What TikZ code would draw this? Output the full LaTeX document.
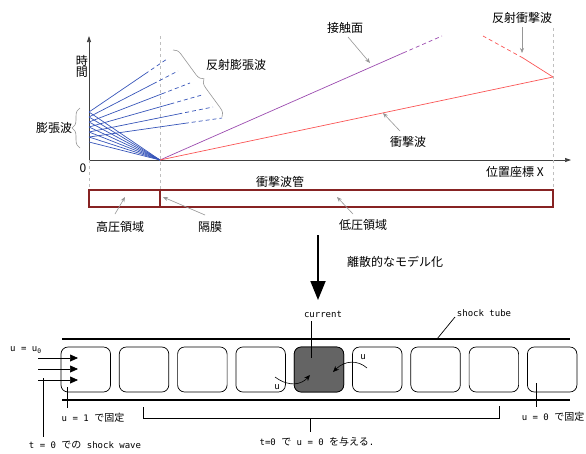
\documentclass[tikz,border=0pt]{standalone}
\usepackage{fontspec}
\setmainfont{Noto Sans CJK JP}
\newfontfamily\monofont[Scale=0.9]{DejaVu Sans Mono}
\usetikzlibrary{arrows.meta,calc,decorations.pathreplacing}

\definecolor{fanblue}{RGB}{55,85,185}
\definecolor{contactpurple}{RGB}{155,75,175}
\definecolor{shockred}{RGB}{250,85,85}
\definecolor{tubered}{RGB}{135,35,35}
\definecolor{notegray}{RGB}{150,150,150}
\definecolor{cellgray}{RGB}{100,100,100}

\tikzset{
  axisline/.style={line width=0.7pt,draw=black!75,-{Triangle[length=6pt,width=4pt]}},
  guide/.style={dashed,draw=black!25,line width=0.5pt},
  fan/.style={draw=fanblue,line width=0.7pt},
  wave/.style={line width=0.7pt},
  dashpart/.style={dash pattern=on 4pt off 3pt},
  note/.style={draw=notegray,line width=0.6pt,-{Stealth[length=5pt,width=4pt]}},
  notebrace/.style={draw=notegray,line width=0.6pt,decorate,decoration={brace,amplitude=8pt}},
  label/.style={font=\fontsize{12}{14}\selectfont,inner sep=1pt},
  small/.style={font=\fontsize{10}{12}\selectfont,inner sep=1pt},
  cell/.style={draw,rounded corners=7pt,line width=0.7pt,minimum width=49.5pt,minimum height=45pt,inner sep=0pt},
  wall/.style={line width=2.6pt},
  pointer/.style={line width=0.7pt},
  push/.style={line width=0.7pt,-{Triangle[length=8pt,width=7pt]}},
  flux/.style={line width=0.6pt,-{Stealth[length=6pt,width=5pt]}}
}

\begin{document}
\begin{tikzpicture}[x=1pt,y=-1pt]
\useasboundingbox (0,0) rectangle (586,453);

% axes
\coordinate (O) at (89,160);
\coordinate (F) at (160,160);
\coordinate (W) at (553,160);
\draw[axisline] (O) -- (89,36) coordinate (T);
\draw[axisline] (O) -- (571,160) coordinate (X);
\node[label,anchor=east,align=center] at (89,66) {時\\[-3pt]間};
\node[label] at (83,168) {0};
\node[label] at (515,172) {位置座標 X};

% guide lines
\draw[guide] (F) ++(0,-124) -- (160,190);
\draw[guide] (O) -- (89,190);
\draw[guide] (553,28) -- (553,190);

% expansion fan and its reflection
\foreach \i in {0,...,6}
  \coordinate (e\i) at (89,{112+5*\i});
\foreach \i in {0,...,6}
  \draw[fan] (F) -- (e\i);
\foreach \i/\ex/\ey in {0/167/59,1/178/71,2/190/83,3/202/95,4/213/107,5/222/118}{
  \coordinate (r\i) at (\ex,\ey);
  \draw[fan] (e\i) -- ($(e\i)!0.72!(r\i)$) coordinate (m\i);
  \draw[fan,dashpart] (m\i) -- (r\i);
}

% contact surface
\coordinate (cs) at (403,53);
\coordinate (ce) at (442,36);
\draw[wave,contactpurple] (F) -- (cs);
\draw[wave,contactpurple,dashpart] (cs) -- (ce);

% shock and reflected shock
\coordinate (S) at (553,77);
\coordinate (rs) at (523,58);
\coordinate (re) at (483,36);
\draw[wave,shockred] (F) -- (S);
\draw[wave,shockred] (S) -- (rs);
\draw[wave,shockred,dashpart] (rs) -- (re);

% braces
\draw[notebrace] (80,148) -- (80,108);
\node[label] at (54,128) {膨張波};
\draw[notebrace] (173,50) -- (222,117);
\node[label] at (236,65) {反射膨張波};

% labels with pointers
\node[label] (contact) at (345,28) {接触面};
\draw[note] (348,37) -- (370,63);
\node[label] (shock) at (408,142) {衝撃波};
\draw[note] (400,131) -- (383,113);
\node[label] (rshock) at (522,18) {反射衝撃波};
\draw[note] (522,27) -- (522,53);

% shock tube bar
\node[label] at (280,182) {衝撃波管};
\draw[tubered,line width=1.6pt] (89,190) rectangle (553,207);
\draw[tubered,line width=1.6pt] (160,190) -- (160,207);
\node[label] (high) at (120,227) {高圧領域};
\draw[note] (115,214) -- (125,197);
\node[label] (diaph) at (210,227) {隔膜};
\draw[note] (205,215) -- (163,197);
\node[label] (low) at (363,225) {低圧領域};
\draw[note] (353,214) -- (337,197);

% discretisation arrow
\coordinate (ds) at (318,235);
\coordinate (de) at (318,300);
\draw[line width=1.8pt,-{Triangle[length=19pt,width=15pt]}] (ds) -- (de);
\node[label] at (395,262) {離散的なモデル化};

% discrete tube
\draw[wall] (62,339) coordinate (tl) -- (570,339) coordinate (tr);
\draw[wall] (62,400) coordinate (bl) -- (570,400) coordinate (br);
\foreach \i in {0,...,8}
  \node[cell] (c\i) at ({85.75+58.3*\i},369.5) {};
\node[cell,fill=cellgray] at (c4) {};

% left boundary
\node[small,anchor=west] at (9,350) {\monofont u = u\textsubscript{0}};
\foreach \y in {358,369,380}
  \draw[push] (38,\y) -- (78,\y);
\coordinate (sw) at (43,378);
\draw[pointer] (sw) -- (43,437);
\node[small] at (85,445) {{\monofont t = 0 }での{\monofont{} shock wave}};
\coordinate (fl) at (67,387);
\draw[pointer] (fl) -- (67,408);
\node[small] at (93,418) {{\monofont u = 1 }で固定};

% current cell
\node[small] (cur) at (323,314) {\monofont current};
\draw[pointer] (311,321) -- (311,358);
\node[small] at (277,387) {\monofont u};
\draw[flux] (275,377) .. controls (290,388) and (302,384) .. (310,375);
\node[small] at (363,357) {\monofont u};
\draw[flux] (367,368) .. controls (358,360) and (345,360) .. (333,372);

% shock tube label
\node[small] (tube) at (484,313) {\monofont shock tube};
\draw[pointer] (455,317) -- (437,339);

% initial condition bracket
\draw[pointer] (143,407) -- (143,418) -- (499,418) -- (499,406);
\draw[pointer] (310,418) -- (310,432);
\node[small] at (317,442) {{\monofont t=0 }で{\monofont{} u = 0 }を与える{\monofont .}};

% right boundary
\draw[pointer] (536,383) -- (536,407);
\node[small] at (553,417) {{\monofont u = 0 }で固定};
\end{tikzpicture}
\end{document}
